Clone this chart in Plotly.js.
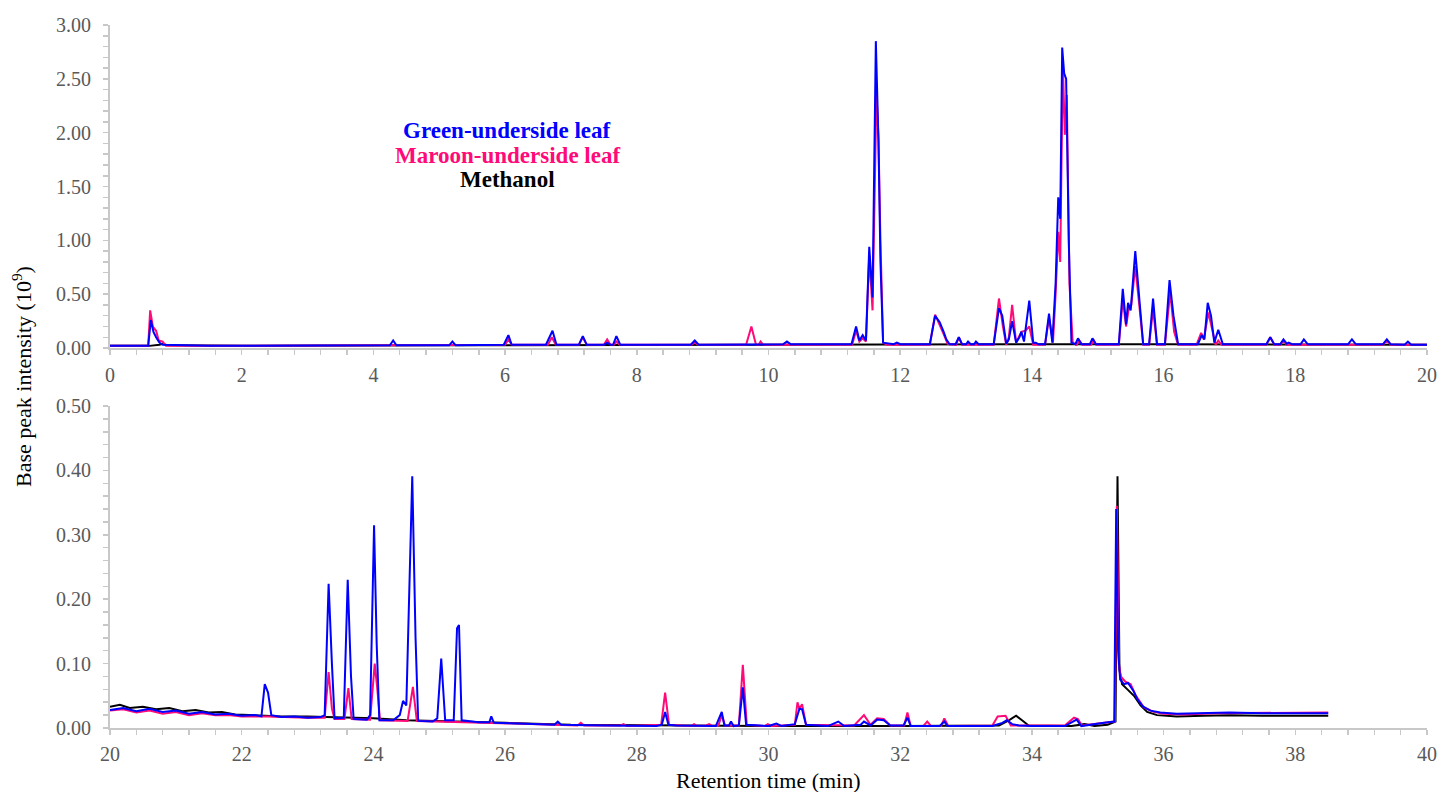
<!DOCTYPE html>
<html>
<head>
<meta charset="utf-8">
<script src="https://cdn.plot.ly/plotly-3.0.1.min.js"></script>
<style>html,body{margin:0;padding:0;background:#fff;}#chart{width:1440px;height:792px;}</style>
</head>
<body>
<div id="chart"></div>
<script>
// ---------- Top panel (0-20 min) ----------
const greenTopT = [0,0.58,0.62,0.66,0.7,0.75,0.8,1.5,4.25,4.3,4.35,5.15,5.2,5.25,5.98,6.05,6.1,6.62,6.72,6.78,7.12,7.18,7.24,7.5,7.55,7.6,7.64,7.69,7.75,8.82,8.88,8.94,10.22,10.28,10.34,11.26,11.33,11.38,11.43,11.48,11.53,11.58,11.63,11.67,11.7,11.74,11.9,11.95,12.0,12.45,12.53,12.6,12.66,12.7,12.75,12.84,12.89,12.94,13.0,13.03,13.07,13.12,13.15,13.19,13.42,13.5,13.55,13.61,13.65,13.7,13.76,13.81,13.84,13.88,13.96,14.02,14.06,14.1,14.2,14.26,14.31,14.36,14.4,14.43,14.46,14.49,14.52,14.56,14.6,14.66,14.7,14.75,14.88,14.92,14.97,15.32,15.38,15.43,15.46,15.5,15.57,15.63,15.69,15.78,15.84,15.9,16.02,16.09,16.15,16.22,16.52,16.58,16.62,16.67,16.72,16.77,16.83,16.9,17.56,17.62,17.68,17.77,17.82,17.87,17.9,17.95,18.08,18.13,18.19,18.8,18.86,18.92,19.33,19.39,19.45,19.66,19.71,19.76,20];
const greenTopY = [0.02,0.02,0.26,0.15,0.1,0.05,0.03,0.02,0.025,0.07,0.025,0.025,0.06,0.025,0.03,0.12,0.03,0.03,0.16,0.03,0.03,0.11,0.03,0.03,0.05,0.03,0.03,0.11,0.03,0.03,0.07,0.03,0.035,0.06,0.035,0.035,0.20,0.07,0.12,0.07,0.94,0.47,2.85,1.92,0.8,0.05,0.035,0.05,0.035,0.035,0.30,0.24,0.15,0.08,0.035,0.035,0.10,0.035,0.035,0.06,0.035,0.035,0.06,0.035,0.035,0.37,0.30,0.04,0.08,0.25,0.05,0.10,0.15,0.06,0.44,0.05,0.05,0.035,0.035,0.32,0.05,0.6,1.40,1.2,2.79,2.55,2.5,1.0,0.05,0.035,0.09,0.035,0.035,0.09,0.035,0.035,0.55,0.22,0.42,0.35,0.90,0.45,0.035,0.035,0.46,0.035,0.035,0.63,0.3,0.035,0.035,0.12,0.08,0.42,0.3,0.05,0.17,0.035,0.035,0.10,0.035,0.035,0.08,0.04,0.05,0.035,0.035,0.08,0.035,0.035,0.08,0.035,0.035,0.08,0.035,0.03,0.06,0.03,0.03];

const maroonTopT = [0,0.58,0.61,0.65,0.7,0.74,0.8,0.85,4.3,6.0,6.05,6.1,6.65,6.71,6.77,7.12,7.18,7.24,7.5,7.55,7.6,7.65,7.69,7.74,8.83,8.88,8.93,9.66,9.74,9.81,9.85,9.88,9.92,11.27,11.33,11.38,11.43,11.48,11.53,11.58,11.64,11.67,11.7,11.74,11.8,12.45,12.53,12.6,12.66,12.72,12.85,12.89,12.94,13.42,13.5,13.56,13.61,13.65,13.7,13.76,13.84,13.9,13.96,14.02,14.2,14.26,14.32,14.36,14.4,14.43,14.47,14.5,14.53,14.57,14.62,14.68,14.72,14.77,14.9,14.94,14.98,15.32,15.38,15.43,15.47,15.51,15.57,15.63,15.69,15.78,15.84,15.9,16.02,16.1,16.16,16.22,16.5,16.57,16.61,16.68,16.74,16.79,16.83,16.88,17.56,17.62,17.68,17.77,17.82,17.87,19.33,19.39,19.45,20];
const maroonTopY = [0.02,0.02,0.35,0.2,0.16,0.07,0.06,0.02,0.025,0.03,0.08,0.03,0.03,0.10,0.03,0.03,0.10,0.03,0.03,0.08,0.03,0.03,0.06,0.03,0.03,0.05,0.03,0.03,0.20,0.03,0.03,0.06,0.03,0.03,0.16,0.06,0.09,0.06,0.86,0.35,2.37,1.95,1.0,0.05,0.03,0.03,0.31,0.22,0.13,0.04,0.03,0.10,0.03,0.03,0.46,0.2,0.03,0.1,0.40,0.05,0.15,0.16,0.2,0.03,0.03,0.28,0.05,0.5,1.08,0.8,2.65,1.98,2.35,0.6,0.05,0.03,0.07,0.03,0.03,0.07,0.03,0.03,0.45,0.2,0.36,0.4,0.76,0.4,0.03,0.03,0.36,0.03,0.03,0.52,0.15,0.03,0.03,0.14,0.08,0.33,0.15,0.03,0.07,0.03,0.03,0.10,0.03,0.03,0.07,0.03,0.03,0.07,0.03,0.03];

const methanolTopT = [0,0.6,0.75,0.8,0.88,2,5,8,10,12,14,16,18,20];
const methanolTopY = [0.02,0.02,0.03,0.04,0.025,0.02,0.025,0.03,0.035,0.037,0.035,0.035,0.03,0.03];

// ---------- Bottom panel (20-40 min) ----------
const greenBotT = [20.0,20.2,20.4,20.6,20.8,21.0,21.2,21.4,21.6,21.8,22.0,22.2,22.3,22.35,22.4,22.45,22.6,22.8,23.0,23.2,23.26,23.32,23.37,23.41,23.55,23.61,23.66,23.7,23.9,23.95,24.01,24.05,24.09,24.3,24.4,24.45,24.5,24.59,24.64,24.68,24.9,24.97,25.03,25.09,25.22,25.27,25.3,25.34,25.6,25.76,25.79,25.83,26.2,26.75,26.8,26.85,27.5,28.3,28.38,28.43,28.48,28.6,29.2,29.29,29.33,29.4,29.43,29.47,29.55,29.61,29.66,30.0,30.12,30.2,30.4,30.47,30.51,30.57,30.9,31.06,31.15,31.4,31.45,31.55,31.65,31.75,31.85,32.05,32.11,32.16,32.6,32.67,32.72,33.4,33.55,33.62,33.7,33.8,34.0,34.5,34.68,34.75,35.1,35.25,35.28,35.31,35.34,35.4,35.46,35.54,35.6,35.69,35.8,35.95,36.2,36.5,37.0,37.5,38.0,38.5];
const greenBotY = [0.028,0.031,0.026,0.030,0.025,0.027,0.022,0.025,0.021,0.022,0.019,0.020,0.018,0.068,0.055,0.02,0.017,0.018,0.016,0.017,0.02,0.224,0.1,0.015,0.016,0.23,0.08,0.014,0.013,0.02,0.315,0.13,0.012,0.012,0.02,0.042,0.035,0.391,0.14,0.011,0.01,0.015,0.108,0.012,0.012,0.155,0.16,0.012,0.009,0.009,0.018,0.008,0.007,0.005,0.01,0.005,0.004,0.003,0.005,0.025,0.005,0.004,0.003,0.025,0.004,0.004,0.01,0.003,0.004,0.063,0.005,0.003,0.007,0.003,0.006,0.03,0.029,0.005,0.003,0.01,0.003,0.005,0.01,0.004,0.013,0.012,0.004,0.004,0.016,0.003,0.003,0.01,0.003,0.003,0.008,0.012,0.006,0.004,0.003,0.003,0.013,0.003,0.008,0.01,0.34,0.12,0.075,0.068,0.07,0.058,0.045,0.033,0.027,0.024,0.022,0.023,0.024,0.023,0.023,0.023];

const maroonBotT = [20.0,20.2,20.4,20.6,20.8,21.0,21.2,21.4,21.6,21.8,22.0,22.4,23.0,23.26,23.32,23.37,23.41,23.56,23.62,23.67,23.95,24.02,24.06,24.1,24.52,24.6,24.66,25.5,26.5,27.1,27.15,27.2,27.75,27.8,27.85,28.37,28.43,28.49,28.82,28.87,28.92,29.05,29.1,29.15,29.24,29.29,29.34,29.55,29.61,29.67,29.94,29.99,30.05,30.4,30.44,30.47,30.51,30.57,31.3,31.45,31.55,31.65,31.75,31.85,32.06,32.11,32.16,32.35,32.41,32.47,32.62,32.67,32.73,33.4,33.48,33.6,33.68,34.5,34.64,34.7,34.76,35.1,35.26,35.29,35.32,35.35,35.42,35.5,35.58,35.7,35.85,36.0,36.3,36.8,37.5,38.0,38.5];
const maroonBotY = [0.027,0.029,0.024,0.027,0.022,0.025,0.020,0.023,0.020,0.020,0.018,0.018,0.016,0.016,0.087,0.03,0.014,0.014,0.062,0.014,0.013,0.10,0.06,0.012,0.011,0.064,0.011,0.009,0.006,0.004,0.008,0.004,0.004,0.006,0.003,0.005,0.055,0.005,0.003,0.006,0.003,0.004,0.006,0.003,0.004,0.02,0.004,0.004,0.098,0.005,0.003,0.006,0.003,0.005,0.04,0.03,0.037,0.005,0.004,0.02,0.005,0.015,0.014,0.004,0.004,0.024,0.003,0.003,0.01,0.003,0.003,0.015,0.003,0.004,0.018,0.019,0.004,0.004,0.016,0.014,0.004,0.008,0.01,0.345,0.1,0.08,0.072,0.068,0.05,0.032,0.025,0.022,0.021,0.023,0.023,0.023,0.024];

const methanolBotT = [20.0,20.15,20.3,20.5,20.7,20.9,21.1,21.3,21.5,21.7,21.9,22.2,22.6,23.0,23.5,24.0,24.5,25.0,25.5,26.0,27.0,28.0,30.0,32.0,33.5,33.65,33.76,33.85,33.95,34.6,34.8,34.95,35.15,35.27,35.3,35.33,35.37,35.45,35.55,35.65,35.75,35.9,36.2,36.6,37.0,37.5,38.0,38.5];
const methanolBotY = [0.033,0.036,0.031,0.033,0.029,0.031,0.026,0.028,0.024,0.025,0.021,0.02,0.018,0.018,0.017,0.015,0.012,0.011,0.009,0.008,0.005,0.004,0.003,0.003,0.004,0.012,0.019,0.012,0.004,0.003,0.006,0.003,0.005,0.01,0.391,0.09,0.068,0.06,0.05,0.035,0.025,0.02,0.018,0.019,0.02,0.019,0.019,0.019];

const seriesNames = ['Green-underside leaf','Maroon-underside leaf','Methanol'];
const seriesColors = ['#0000ff','#ff0a78','#000000'];

const serif = 'Liberation Serif, Times New Roman, serif';

function tr(x, y, color, xa, ya, name) {
  return {x: x, y: y, type: 'scatter', mode: 'lines', name: name,
          line: {color: color, width: 2}, xaxis: xa, yaxis: ya, hoverinfo: 'skip'};
}

const data = [
  tr(methanolTopT, methanolTopY, seriesColors[2], 'x', 'y', seriesNames[2]),
  tr(maroonTopT, maroonTopY, seriesColors[1], 'x', 'y', seriesNames[1]),
  tr(greenTopT, greenTopY, seriesColors[0], 'x', 'y', seriesNames[0]),
  tr(methanolBotT, methanolBotY, seriesColors[2], 'x2', 'y2', seriesNames[2]),
  tr(maroonBotT, maroonBotY, seriesColors[1], 'x2', 'y2', seriesNames[1]),
  tr(greenBotT, greenBotY, seriesColors[0], 'x2', 'y2', seriesNames[0])
];

const tickFont = {family: serif, size: 20, color: '#595959'};
const minorX = {dtick: 0.4, ticks: 'outside', ticklen: 5, tickcolor: '#c8c8c8', tickwidth: 1.5};
const axisCommon = {
  showgrid: false, zeroline: false, showline: true, linecolor: '#c8c8c8', linewidth: 2,
  ticks: 'outside', ticklen: 5, tickwidth: 1.5, tickcolor: '#c8c8c8', tickfont: tickFont
};

const layout = {
  width: 1440, height: 792,
  margin: {l: 110, r: 13, t: 25, b: 64},
  paper_bgcolor: '#ffffff', plot_bgcolor: '#ffffff',
  showlegend: false,
  xaxis: Object.assign({}, axisCommon, {domain: [0, 1], anchor: 'y', range: [0, 20], dtick: 2, tick0: 0,
    minor: minorX, ticklabelstandoff: 3}),
  yaxis: Object.assign({}, axisCommon, {domain: [0.5405, 1], anchor: 'x', range: [0, 3], dtick: 0.5, tickformat: '.2f',
    minor: {dtick: 0.1, ticks: 'outside', ticklen: 5, tickcolor: '#c8c8c8', tickwidth: 1.5}, ticklabelstandoff: 8}),
  xaxis2: Object.assign({}, axisCommon, {domain: [0, 1], anchor: 'y2', range: [20, 40], dtick: 2, tick0: 20,
    minor: minorX, ticklabelstandoff: 2}),
  yaxis2: Object.assign({}, axisCommon, {domain: [0, 0.458], anchor: 'x2', range: [0, 0.5], dtick: 0.1, tickformat: '.2f',
    minor: {dtick: 0.02, ticks: 'outside', ticklen: 5, tickcolor: '#c8c8c8', tickwidth: 1.5}, ticklabelstandoff: 8}),
  annotations: [
    {text: '<b>' + seriesNames[0] + '</b>', xref: 'paper', yref: 'paper', x: (507 - 110) / 1317, y: (728 - 130) / 703,
     xanchor: 'center', yanchor: 'middle', showarrow: false, font: {family: serif, size: 23, color: seriesColors[0]}},
    {text: '<b>' + seriesNames[1] + '</b>', xref: 'paper', yref: 'paper', x: (507 - 110) / 1317, y: (728 - 155) / 703,
     xanchor: 'center', yanchor: 'middle', showarrow: false, font: {family: serif, size: 23, color: seriesColors[1]}},
    {text: '<b>' + seriesNames[2] + '</b>', xref: 'paper', yref: 'paper', x: (507 - 110) / 1317, y: (728 - 180) / 703,
     xanchor: 'center', yanchor: 'middle', showarrow: false, font: {family: serif, size: 23, color: seriesColors[2]}},
    {text: 'Base peak intensity (10<sup>9</sup>)', xref: 'paper', yref: 'paper', x: (22 - 110) / 1317, y: (728 - 377) / 703,
     xanchor: 'center', yanchor: 'middle', textangle: -90, showarrow: false, font: {family: serif, size: 22, color: '#000000'}},
    {text: 'Retention time (min)', xref: 'paper', yref: 'paper', x: 0.5, y: (728 - 780) / 703,
     xanchor: 'center', yanchor: 'middle', showarrow: false, font: {family: serif, size: 22, color: '#000000'}}
  ]
};

Plotly.newPlot('chart', data, layout, {displayModeBar: false, staticPlot: true});
</script>
</body>
</html>
